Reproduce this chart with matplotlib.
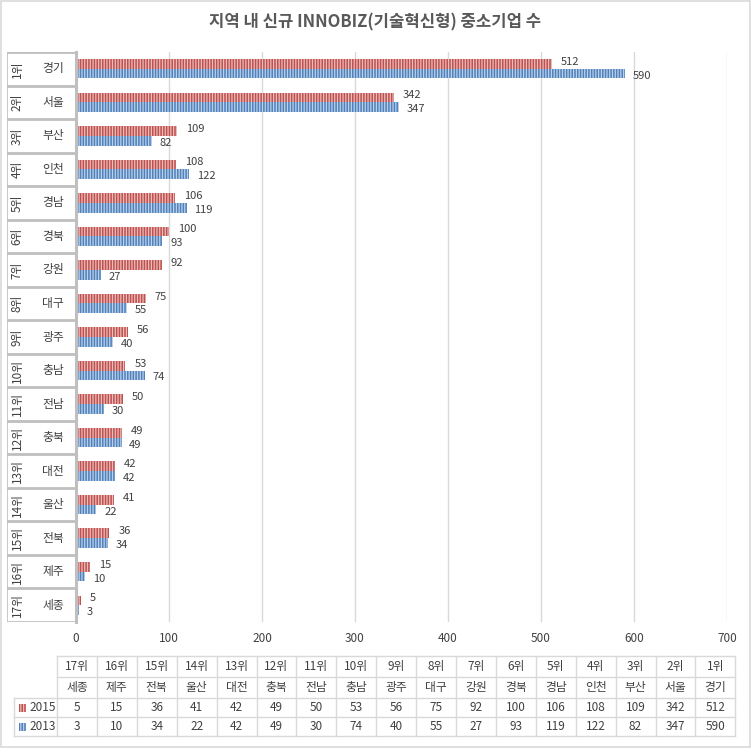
import matplotlib
matplotlib.use("Agg")
import matplotlib.pyplot as plt
from matplotlib.patches import Rectangle
from matplotlib.lines import Line2D

plt.rcParams['font.family'] = ['Noto Sans CJK KR', 'DejaVu Sans']
plt.rcParams['hatch.linewidth'] = 0.9

# 데이터 (엑셀 표 순서: 17위 -> 1위)
ranks = ["17위", "16위", "15위", "14위", "13위", "12위", "11위", "10위", "9위",
         "8위", "7위", "6위", "5위", "4위", "3위", "2위", "1위"]
regions = ["세종", "제주", "전북", "울산", "대전", "충북", "전남", "충남", "광주",
           "대구", "강원", "경북", "경남", "인천", "부산", "서울", "경기"]
v2015 = [5, 15, 36, 41, 42, 49, 50, 53, 56, 75, 92, 100, 106, 108, 109, 342, 512]
v2013 = [3, 10, 34, 22, 42, 49, 30, 74, 40, 55, 27, 93, 119, 122, 82, 347, 590]
xticks = [0, 100, 200, 300, 400, 500, 600, 700]

RED, RED_L = "#C0504D", "#E9BDBC"
BLUE, BLUE_L = "#4F81BD", "#BCD0E8"
TXT = "#404040"
GRID = "#D9D9D9"
BOX = "#BFBFBF"

W, H = 751, 752
fig = plt.figure(figsize=(W / 100, H / 100), dpi=100)


def fx(x):
    return x / W


def fy(y):
    return 1 - y / H


# 바탕 테두리
fig.add_artist(Rectangle((fx(1), fy(747)), fx(749), 746 / H, transform=fig.transFigure,
                         fill=False, ec=GRID, lw=1.2))

fig.text(fx(375), fy(22), "지역 내 신규 INNOBIZ(기술혁신형) 중소기업 수", ha="center", va="center",
         fontsize=12, fontweight="bold", color="#595959")

# 본 차트
L, R, T, B = 76, 727, 52, 622
ax = fig.add_axes([fx(L), fy(B), (R - L) / W, (B - T) / H])
n = len(regions)
ys = list(range(n))
bh = 0.29
ax.barh([y + bh / 2 for y in ys], v2015, height=bh, color=RED, edgecolor=RED_L,
        hatch="||||||", linewidth=0, zorder=2)
ax.barh([y - bh / 2 for y in ys], v2013, height=bh, color=BLUE, edgecolor=BLUE_L,
        hatch="||||||", linewidth=0, zorder=2)
for y, a, b in zip(ys, v2015, v2013):
    ax.annotate(str(a), (a, y + bh / 2), xytext=(6.5, 1.5), textcoords="offset points",
                ha="left", va="center", fontsize=8, color=TXT)
    ax.annotate(str(b), (b, y - bh / 2), xytext=(5.5, -1.5), textcoords="offset points",
                ha="left", va="center", fontsize=8, color=TXT)
ax.set_xlim(0, 700)
ax.set_ylim(-0.5, n - 0.5)
ax.set_xticks(xticks)
ax.set_xticklabels([str(t) for t in xticks], fontsize=8.5, color=TXT)
ax.set_yticks([])
ax.tick_params(axis="x", length=0, pad=7)
ax.grid(axis="x", color=GRID, lw=1, zorder=0)
for s in ax.spines.values():
    s.set_visible(False)

# 왼쪽 범주 박스 (순위 / 지역)
lab = fig.add_axes([fx(7), fy(B), (L - 7) / W, (B - T) / H], sharey=ax)
lab.set_xlim(0, 1)
lab.axis("off")
for y, rk, rg in zip(ys, ranks, regions):
    lab.text(0.15, y, rk, rotation=90, ha="center", va="center", fontsize=8.5, color=TXT)
    lab.text(0.67, y, rg, ha="center", va="center", fontsize=8.5, color=TXT)
    lab.add_line(Line2D([0, 1], [y + 0.5, y + 0.5], color=BOX, lw=2))
lab.add_line(Line2D([0, 1], [-0.5, -0.5], color=BOX, lw=2))
lab.add_line(Line2D([0, 0], [-0.5, n - 0.5], color=BOX, lw=1.2))
lab.add_line(Line2D([1, 1], [-0.5, n - 0.5], color=BOX, lw=2.2, clip_on=False))

# 하단 데이터 표
x0, cw = 57, 39.9
rows = [656, 677, 698, 717, 736]
tx = fig.add_axes([0, 0, 1, 1])
tx.set_xlim(0, W)
tx.set_ylim(H, 0)
tx.axis("off")
xr = x0 + cw * n
for yy in rows:
    tx.add_line(Line2D([14 if yy >= 698 else x0, xr], [yy, yy], color=GRID, lw=1))
for i in range(n + 1):
    xx = x0 + cw * i
    tx.add_line(Line2D([xx, xx], [rows[0], rows[-1]], color=GRID, lw=1))
tx.add_line(Line2D([14, 14], [rows[2], rows[-1]], color=GRID, lw=1))
for i in range(n):
    cx = x0 + cw * (i + 0.5)
    for j, txt in enumerate([ranks[i], regions[i], str(v2015[i]), str(v2013[i])]):
        tx.text(cx, (rows[j] + rows[j + 1]) / 2, txt, ha="center", va="center",
                fontsize=8.5, color=TXT)
for j, (name, c, cl) in enumerate([("2015", RED, RED_L), ("2013", BLUE, BLUE_L)]):
    yc = (rows[2 + j] + rows[3 + j]) / 2
    tx.add_patch(Rectangle((19, yc - 4), 7, 8, facecolor=c, edgecolor=cl, hatch="||||||", lw=0))
    tx.text(29, yc, name, ha="left", va="center", fontsize=8.5, color=TXT)

fig.savefig("out.png", dpi=100)
